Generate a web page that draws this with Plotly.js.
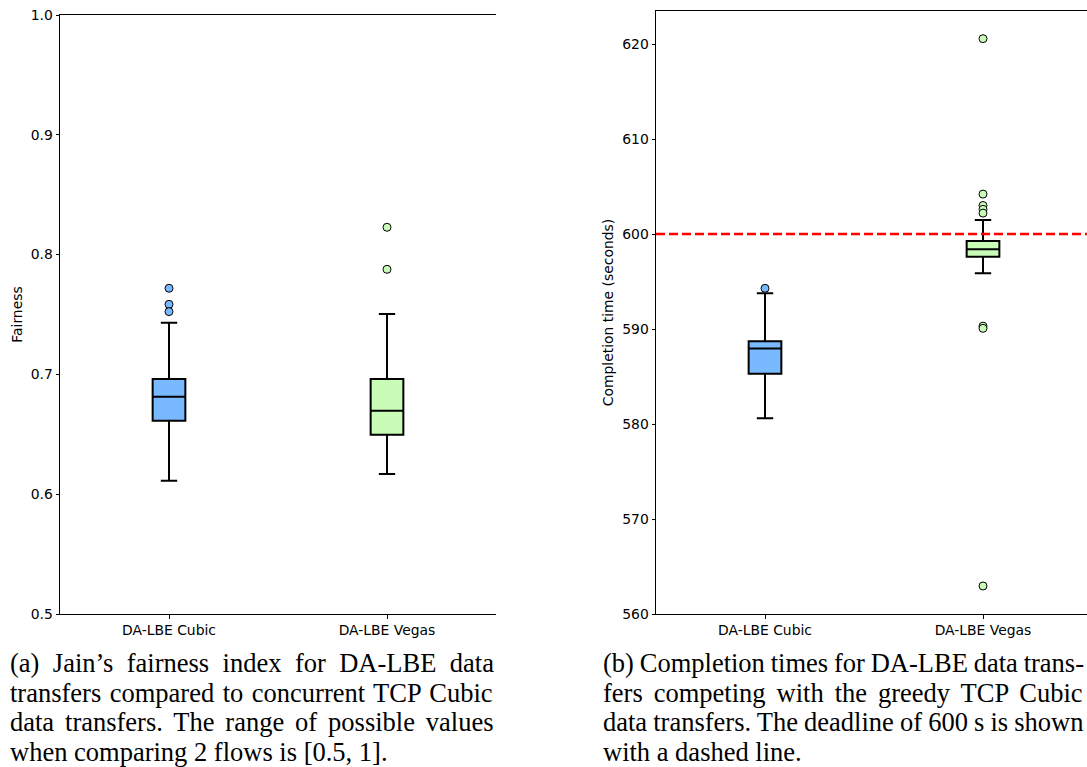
<!DOCTYPE html>
<html>
<head>
<meta charset="utf-8">
<script src="https://cdn.plot.ly/plotly-3.0.1.min.js"></script>
<style>html,body{margin:0;padding:0;background:#fff;}#chart{width:1087px;height:767px;}</style>
</head>
<body>
<div id="chart"></div>
<script>
// ---- data ----
const categories = ['DA-LBE Cubic', 'DA-LBE Vegas'];

// (a) Fairness box statistics [Cubic, Vegas]
const fairQ1 = [0.6614, 0.6497];
const fairMedian = [0.6814, 0.6697];
const fairQ3 = [0.6962, 0.6962];
const fairLow = [0.6113, 0.6169];
const fairHigh = [0.7432, 0.7504];
const fairOutCubic = [0.7719, 0.7585, 0.7524];
const fairOutVegas = [0.8228, 0.7877];

// (b) Completion time box statistics [Cubic, Vegas]
const timeQ1 = [585.3, 597.61];
const timeMedian = [587.96, 598.39];
const timeQ3 = [588.7, 599.26];
const timeLow = [580.6, 595.86];
const timeHigh = [593.76, 601.47];
const timeOutCubic = [594.28];
const timeOutVegas = [620.56, 604.2, 603.0, 602.6, 602.2, 590.3, 590.07, 562.95];

const deadline = 600;

const yTicksA = [0.5, 0.6, 0.7, 0.8, 0.9, 1.0];
const yTicksB = [560, 570, 580, 590, 600, 610, 620];

const captionA = [
  '(a) Jain\u2019s fairness index for DA-LBE data',
  'transfers compared to concurrent TCP Cubic',
  'data transfers. The range of possible values',
  'when comparing 2 flows is [0.5, 1].'
];
const captionB = [
  '(b) Completion times for DA-LBE data trans-',
  'fers competing with the greedy TCP Cubic',
  'data transfers. The deadline of 600 s is shown',
  'with a dashed line.'
];

// ---- styling ----
const colors = ['#78b9ff', '#c8fcb7'];
const tickFont = {family: 'DejaVu Sans', size: 13.9, color: '#000'};
const capFontFamily = 'Liberation Serif';
const capFontSize = 26.5;

function boxTrace(i, q1, med, q3, lo, hi, xa, ya) {
  return {
    type: 'box', x: [categories[i]], q1: [q1[i]], median: [med[i]], q3: [q3[i]],
    lowerfence: [lo[i]], upperfence: [hi[i]],
    boxpoints: false, fillcolor: colors[i], line: {color: '#000', width: 2},
    width: 0.15, whiskerwidth: 0.5, xaxis: xa, yaxis: ya, showlegend: false, hoverinfo: 'y'
  };
}
function outTrace(i, vals, xa, ya) {
  return {
    type: 'scatter', mode: 'markers', x: vals.map(() => categories[i]), y: vals,
    marker: {color: colors[i], size: 8, line: {color: '#000', width: 1}},
    xaxis: xa, yaxis: ya, showlegend: false, cliponaxis: false
  };
}

const data = [
  boxTrace(0, fairQ1, fairMedian, fairQ3, fairLow, fairHigh, 'x', 'y'),
  boxTrace(1, fairQ1, fairMedian, fairQ3, fairLow, fairHigh, 'x', 'y'),
  outTrace(0, fairOutCubic, 'x', 'y'),
  outTrace(1, fairOutVegas, 'x', 'y'),
  boxTrace(0, timeQ1, timeMedian, timeQ3, timeLow, timeHigh, 'x2', 'y2'),
  boxTrace(1, timeQ1, timeMedian, timeQ3, timeLow, timeHigh, 'x2', 'y2'),
  outTrace(0, timeOutCubic, 'x2', 'y2'),
  outTrace(1, timeOutVegas, 'x2', 'y2')
];

const W = 1087, H = 767, ML = 60, MR = 0, MT = 11, MB = 153;
const PW = W - ML - MR, PH = H - MT - MB;

const xCommon = {
  type: 'category', categoryorder: 'array', categoryarray: categories,
  showline: true, linecolor: '#000', linewidth: 1, mirror: true,
  ticks: 'outside', ticklen: 3.5, tickcolor: '#000', tickfont: tickFont,
  showgrid: false, zeroline: false, fixedrange: true
};
const yCommon = {
  showline: true, linecolor: '#000', linewidth: 1, mirror: false,
  ticks: 'outside', ticklen: 3.5, tickcolor: '#000', tickfont: tickFont,
  showgrid: false, zeroline: false, fixedrange: true, automargin: false
};

// justify caption lines (except the last) with word spacing
const ctx = document.createElement('canvas').getContext('2d');
ctx.font = capFontSize + 'px "' + capFontFamily + '"';
function justified(line, target, isLast) {
  if (isLast) return line;
  const spaces = line.split(' ').length - 1;
  const extra = (target - ctx.measureText(line).width) / spaces;
  return '<span style="word-spacing:' + extra.toFixed(2) + 'px">' + line + '</span>';
}
function capAnn(lines, px, target) {
  return lines.map((t, k) => ({
    text: justified(t, target, k === lines.length - 1), xref: 'paper', yref: 'paper',
    x: (px - ML) / PW, y: (MT + PH - (663 + 29.7 * k)) / PH,
    xanchor: 'left', yanchor: 'middle', showarrow: false, align: 'left',
    font: {family: capFontFamily, size: capFontSize, color: '#000'}
  }));
}

const layout = {
  width: W, height: H,
  margin: {l: ML, r: MR, t: MT, b: MB, pad: 0},
  paper_bgcolor: '#fff', plot_bgcolor: '#fff',
  showlegend: false, boxmode: 'overlay',
  xaxis: Object.assign({}, xCommon, {domain: [0, 436 / PW], range: [-0.5, 1.5], anchor: 'y'}),
  yaxis: Object.assign({}, yCommon, {
    domain: [0, 599 / PH], range: [0.5, 1.0], anchor: 'x',
    tickvals: yTicksA, ticktext: yTicksA.map(v => v.toFixed(1)),
    title: {text: 'Fairness', font: {family: 'DejaVu Sans', size: 13.9, color: '#000'}, standoff: 4}
  }),
  xaxis2: Object.assign({}, xCommon, {domain: [(656 - ML) / PW, 1], range: [-0.5, -0.5 + (W - 656) / 218], anchor: 'y2'}),
  yaxis2: Object.assign({}, yCommon, {
    domain: [0, 1], range: [560, 560 + PH / 9.5], anchor: 'x2',
    tickvals: yTicksB, ticktext: yTicksB.map(String),
    title: {text: 'Completion time (seconds)', font: {family: 'DejaVu Sans', size: 13.9, color: '#000'}, standoff: 5}
  }),
  shapes: [{
    type: 'line', xref: 'x2 domain', yref: 'y2', x0: 0, x1: 1, y0: deadline, y1: deadline,
    line: {color: '#ff0000', width: 2.5, dash: '9px,4px'}, layer: 'above'
  }],
  annotations: capAnn(captionA, 8, 484).concat(capAnn(captionB, 601, 481))
};

Plotly.newPlot('chart', data, layout, {displayModeBar: false, staticPlot: true});
</script>
</body>
</html>
